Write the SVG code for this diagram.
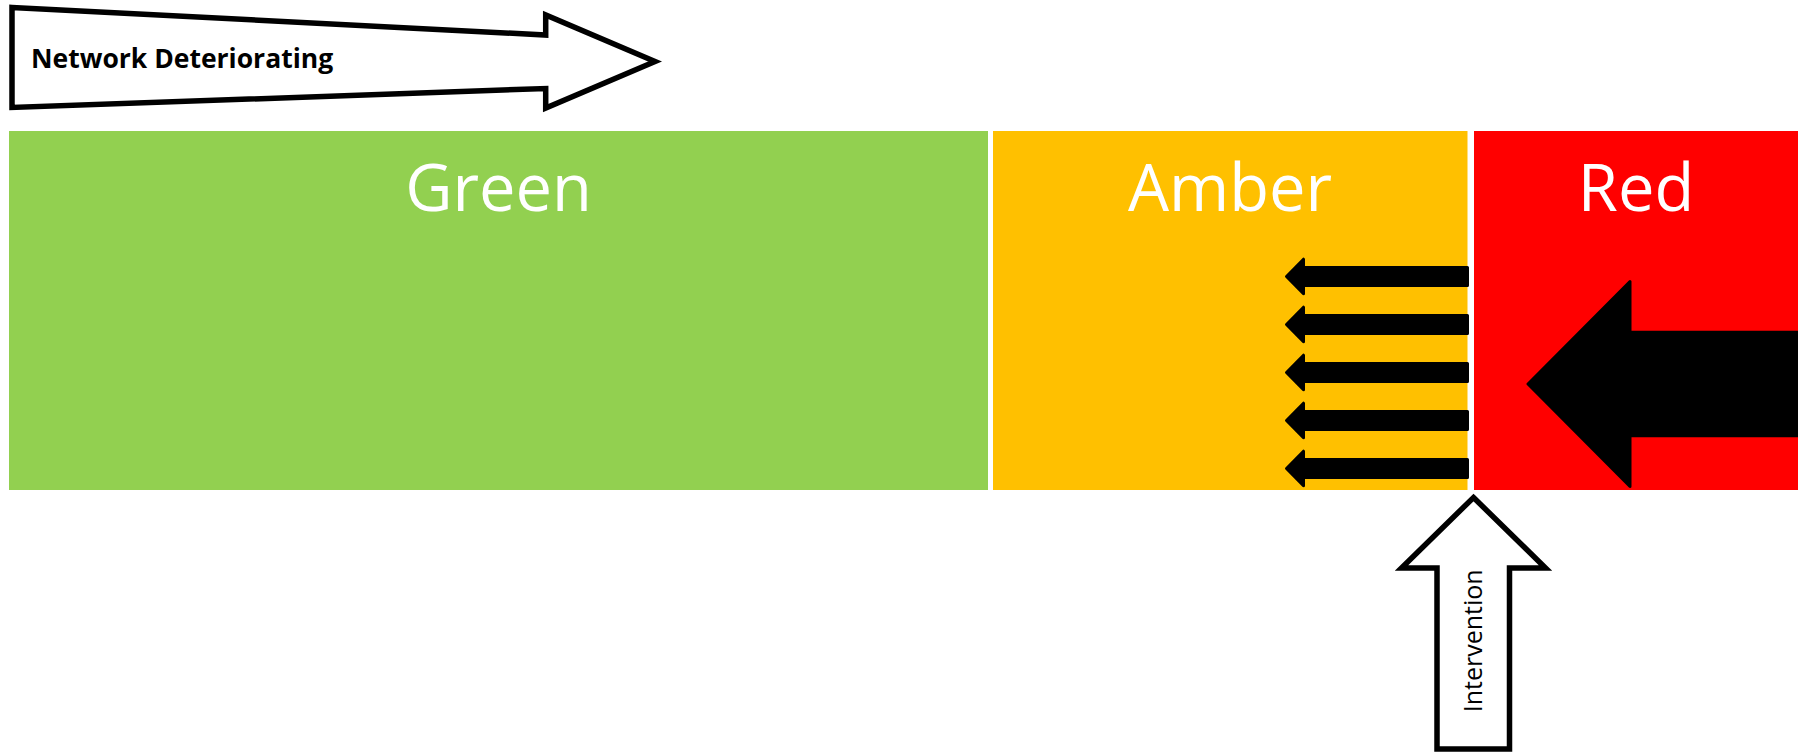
<svg xmlns="http://www.w3.org/2000/svg" width="1798" height="752" viewBox="0 0 1798 752">
  <style>
    .band-label { font-family: "Open Sans", "Noto Sans", "Liberation Sans", sans-serif; font-size: 65px; fill: #ffffff; text-anchor: middle; }
    .outline-arrow { fill: #ffffff; stroke: #000000; stroke-width: 5.5; stroke-linejoin: miter; }
    .solid-arrow { fill: #000000; stroke: #000000; stroke-width: 3; stroke-linejoin: round; }
    .caption { font-family: "Open Sans", "Noto Sans", "Liberation Sans", sans-serif; fill: #000000; }
  </style>
  <defs>
    <!-- left-pointing block arrow, tip at the origin -->
    <path id="smallArrow" d="M0,0 L17,-17.3 L17,-9 L181,-9 L181,9 L17,9 L17,17.3 Z"/>
  </defs>

  <rect width="1798" height="752" fill="#ffffff"/>

  <!-- trend arrow across the top -->
  <g id="network-deteriorating">
    <polygon class="outline-arrow" points="12,7.5 545.7,35 545.7,15 655,61.5 545.7,108 545.7,88.5 12,107.5"/>
    <text class="caption" x="31" y="68.3" font-size="26.5" font-weight="bold">Network Deteriorating</text>
  </g>

  <!-- status bands -->
  <g id="green">
    <rect x="9" y="131" width="979" height="359" fill="#92D050"/>
    <text class="band-label" x="498.5" y="211">Green</text>
  </g>
  <g id="amber">
    <rect x="993" y="131" width="474.5" height="359" fill="#FFC000"/>
    <text class="band-label" x="1230" y="211">Amber</text>
  </g>
  <g id="red">
    <rect x="1474" y="131" width="324" height="359" fill="#FF0000"/>
    <text class="band-label" x="1636" y="211">Red</text>
  </g>

  <!-- movement arrows -->
  <g id="connectors">
    <use href="#smallArrow" class="solid-arrow" transform="translate(1286.5,276.5)"/>
    <use href="#smallArrow" class="solid-arrow" transform="translate(1286.5,324.5)"/>
    <use href="#smallArrow" class="solid-arrow" transform="translate(1286.5,372.5)"/>
    <use href="#smallArrow" class="solid-arrow" transform="translate(1286.5,420.5)"/>
    <use href="#smallArrow" class="solid-arrow" transform="translate(1286.5,468.5)"/>
    <polygon class="solid-arrow" points="1528,384 1630,281.5 1630,332.2 1800,332.2 1800,435.8 1630,435.8 1630,486.5"/>
  </g>

  <!-- upward intervention arrow -->
  <g id="intervention">
    <polygon class="outline-arrow" points="1473.5,497.5 1545.5,568 1509.5,568 1509.5,749 1437,749 1437,568 1401.5,568" stroke-width="5"/>
    <text class="caption" font-size="25" text-anchor="middle" transform="translate(1481.7,640.8) rotate(-90)">Intervention</text>
  </g>
</svg>
